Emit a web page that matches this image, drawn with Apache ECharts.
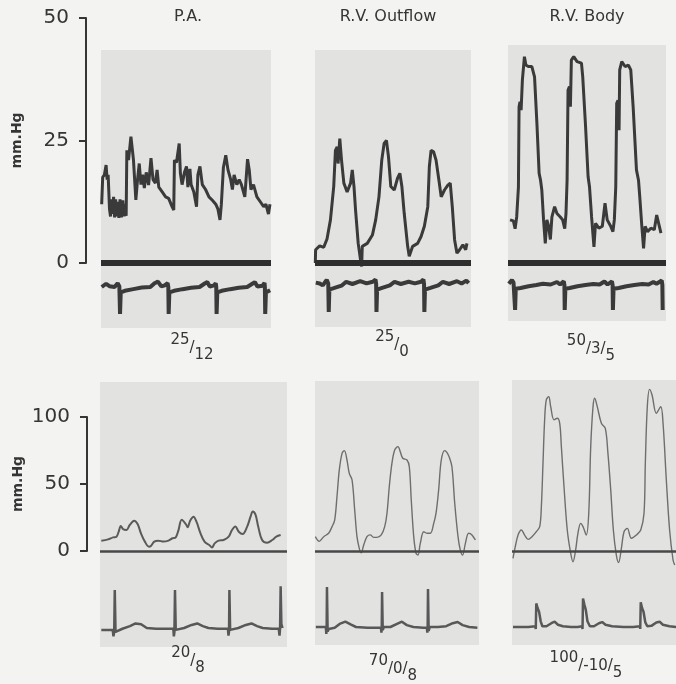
<!DOCTYPE html>
<html>
<head>
<meta charset="utf-8">
<title>Pressure tracings</title>
<script src="https://cdn.jsdelivr.net/npm/echarts@6/dist/echarts.min.js"></script>
<style>
    html, body { margin: 0; padding: 0; background: #f3f3f2; }
    #main { width: 676px; height: 684px; }
</style>
</head>
<body>
<div id="main"></div>
<script>
// titles and readings
var panelNames = ['P.A.', 'R.V. Outflow', 'R.V. Body'];
var readingsTop = [['25', '12'], ['25', '0'], ['50', '3', '5']];
var readingsBottom = [['20', '8'], ['70', '0', '8'], ['100', '-10', '5']];

// tick labels (mm.Hg)
var ticksTop = [0, 25, 50];
var ticksBottom = [0, 50, 100];

// pressure traces, [time % of strip, mm.Hg]
var paTop = [
    [0.4,12],[1.0,17.5],[2.0,18],[3.0,20],[3.6,17],[4.2,18],[5.0,11],[5.6,9.5],[6.2,13],[6.8,10],[7.4,13.5],[8.0,9.3],
    [8.6,13],[9.2,9.5],[9.8,12.5],[10.5,9.2],[11.2,13],[12.0,9.3],[12.8,12.8],[13.6,9.5],[14.4,12],[14.8,9.6],
    [15.2,23],[16.2,21],[17.6,25.8],[18.5,23],[19.1,21],[20.5,12.9],[21.5,17],[22.5,20.3],[23.5,16],[24.5,18],[25.5,15.3],
    [26.6,18.5],[28.0,15.9],[29.4,21.4],[30.6,17],[32.0,16.3],[33.0,19],[34.0,15.5],[36.0,14.5],[38.0,13.5],[39.8,13.2],
    [41.8,11.5],[42.8,10.8],
    [43.2,21],[44.4,20.5],[46.0,24.4],[46.7,18.3],[47.7,16],[49.1,18.5],[50.3,19.7],[51.1,15.5],[52.3,19.2],[53.0,16],
    [54.6,14.5],[56.2,11.5],[57.0,18],[58.2,19.7],[59.6,16],[61.5,15],[63.5,13.5],[65.5,12.8],[67.5,12],[68.8,11],[70.0,8.8],[70.8,12],
    [72.0,19.5],[73.4,22],[74.7,19],[76.3,17],[77.3,15],[78.3,18],[79.9,16],[81.3,17],[82.6,16],[84.6,13.5],[86.2,21.2],
    [87.2,19],[88.2,15],[89.7,16],[91.7,13.5],[93.7,12.5],[95.7,11.5],[97.0,12],[98.5,10],[99.4,12]
];
var outflowTop = [
    [0.2,0],[0.4,2.7],[3,3.5],[5.6,3.2],[7.7,4.9],[9.9,8.8],[12.0,15.6],[13.1,23],[14.2,23.7],[14.8,20.3],[15.9,25.4],
    [17.0,21],[18.5,16.3],[20.6,14.5],[22.8,16.3],[23.9,19],[25.0,15.6],[26.0,10.8],[27.7,4],[29.2,0.6],[29.9,-0.7],
    [30.3,3.4],[33.5,4],[36.8,5.7],[38.9,8.8],[41.0,13.5],[42.8,21],[44.3,24.4],[45.8,25],[47.1,21.7],[48.6,15.6],
    [50.8,14.9],[52.9,17.3],[54.4,18.3],[55.7,15.6],[57.2,10.1],[59.4,3.4],[60.4,1.4],[62.6,3.4],[65.8,4],[68.0,5.4],
    [70.1,7.5],[72.3,11.5],[73.3,19.7],[74.4,23],[76.0,22.7],[77.6,21],[79.4,17],[80.9,13.5],[83.0,14.9],[85.2,15.9],
    [86.7,16.3],[88.0,11.5],[89.5,4.7],[91.0,2],[92.7,2.7],[94.8,3.7],[96.6,2.7],[97.4,4]
];
var bodyTop = [
    [1.3,8.8],[3.4,8.6],[4.5,7.0],[5.5,9.4],[6.6,15.5],[7.0,31.9],[7.6,32.9],[8.3,31.2],[9.1,37.3],[10.4,42.1],[11.3,40.4],
    [12.9,40.1],[15.1,40.1],[16.8,38.0],[18.3,28.5],[19.7,18.3],[20.6,16.9],[21.4,14.9],[22.5,8.8],[23.6,4.0],[24.6,8.8],
    [25.7,7.5],[26.8,4.8],[27.8,9.4],[29.5,11.5],[31.0,10.1],[33.1,9.4],[34.6,8.8],[35.9,7.0],[36.7,10.1],[37.4,16.9],
    [38.0,35.3],[38.9,36.0],[39.5,31.9],[40.1,41.4],[41.6,42.1],[43.7,41.1],[46.5,40.8],[47.3,38.0],[49.1,27.8],[50.7,17.6],
    [51.6,15.5],[52.9,9.4],[54.4,3.3],[55.4,8.1],[57.5,7.1],[59.7,7.5],[61.4,12.2],[62.8,8.8],[65.0,7.5],[66.4,6.4],
    [67.3,8.8],[68.2,15.5],[68.8,32.6],[69.6,33.2],[70.3,27.1],[70.7,39.4],[72.0,41.1],[74.1,40.1],[76.2,40.4],[77.7,39.4],
    [79.2,31.9],[81.3,19],[82.6,16.9],[83.4,13.5],[84.7,7.5],[85.8,3],[86.8,7.5],[88.3,6.4],[90.4,7.1],[92.6,6.8],
    [94.1,9.8],[95.3,10.1],[96.8,6.1]
];
var paBottom = [
    [0.7,7.7],[4.3,8.7],[7.0,10.2],[8.8,10.7],[10.0,14.4],[11.1,18.7],[12.4,16.2],[14.2,15.7],[15.9,19.4],[18.3,22.6],
    [20.1,20.1],[21.9,13.2],[24.0,7.0],[26.2,3.2],[27.2,3.7],[29.0,7.0],[31.2,7.7],[33.9,7.0],[36.6,7.7],[38.7,9.5],
    [40.5,10.2],[41.9,15.2],[43.7,23.3],[45.9,20.1],[46.9,17.7],[48.2,22.6],[50.0,25.6],[51.8,21.1],[53.6,13.7],[55.9,7.0],
    [58.4,4.5],[59.9,2.7],[61.3,5.7],[63.4,7.7],[66.1,8.2],[68.8,10.7],[70.6,15.7],[72.4,18.2],[74.2,14.4],[76.3,12.7],
    [78.7,18.2],[80.5,25.6],[81.7,29.4],[83.2,26.9],[84.6,18.2],[86.7,8.2],[89.4,6.2],[92.1,8.2],[94.3,10.7],[96.6,11.9]
];
var outflowBottom = [
    [0.2,10.7],[2.6,7.2],[5.3,10.7],[8.3,13.2],[10.4,18.2],[12.0,23.1],[13.4,40.5],[14.8,60.4],[16.5,72.9],[17.9,74.9],
    [19.5,67.9],[20.9,57.9],[22.6,53.0],[24.2,30.6],[25.6,10.7],[27.0,2.0],[28.2,-1.3],[29.7,4.5],[31.7,10.7],[33.7,12.0],
    [35.8,10.2],[37.8,10.2],[40.4,12.0],[42.5,18.2],[43.9,28.2],[45.3,48.1],[46.9,65.4],[48.6,75.4],[50.6,77.9],[52.0,74.1],
    [53.5,69.2],[56.1,67.9],[57.5,62.9],[58.7,38.1],[60.2,10.7],[61.6,-1.7],[62.8,-3.0],[64.2,5.7],[66.3,14.4],[68.3,13.2],
    [70.3,13.2],[72.4,20.6],[73.8,28.2],[75.4,45.6],[77.0,67.9],[79.1,74.9],[80.5,73.4],[81.9,69.9],[83.5,62.9],[85.2,35.6],
    [87.2,10.7],[88.6,0.7],[90.0,-3.0],[91.7,5.7],[93.7,13.2],[95.7,12.0],[97.8,8.2]
];
var bodyBottom = [
    [0.6,-5.5],[2.0,3.2],[3.7,11.9],[5.7,15.7],[7.7,11.9],[9.8,8.7],[12.2,10.7],[14.8,14.4],[16.9,18.2],[17.9,33.1],
    [18.9,65.4],[19.9,97.9],[20.9,112.7],[22.4,115.2],[23.6,107.7],[25.6,97.9],[27.6,99.1],[29.1,95.3],[30.1,77.9],
    [31.7,48.1],[33.7,15.7],[35.8,-1.7],[37.2,-8.0],[38.8,0.7],[40.2,13.2],[41.9,20.6],[43.3,18.2],[45.3,11.9],[46.8,28.2],
    [48.0,77.9],[49.4,107.7],[50.4,114.0],[52.0,107.7],[54.5,95.3],[56.9,91.5],[58.5,72.9],[60.2,45.6],[61.8,15.7],
    [63.6,-2.9],[65.0,-8.6],[66.7,2.0],[68.3,14.4],[70.3,16.9],[72.8,9.5],[75.8,11.9],[78.5,15.7],[80.5,28.2],[81.3,65.4],
    [82.5,107.7],[83.9,120.6],[85.4,116.4],[88.0,102.8],[90.7,107.7],[92.1,95.3],[94.1,53.0],[96.1,15.7],[98.2,-6.7],[99.2,-10.4]
];

// ECG strips, [time % of strip, relative deflection]
var ecgPaTop = [
    [0.4,0],[3.0,0.12],[5.0,0.03],[8.0,0],[9.8,0.14],[10.8,0.02],[11.2,-1],[11.6,-0.2],[14,-0.14],[19,-0.08],[24,-0.02],
    [29,0],[31.5,0.14],[33.5,0.2],[35.5,0.02],[37.5,0.06],[39.2,0.14],[39.6,0],[39.8,-1],[40.2,-0.2],[43,-0.14],[48,-0.08],
    [53,-0.03],[58,0],[61,0.13],[62.5,0.18],[64,0.02],[66.5,0.06],[67.5,0.14],[67.8,0],[68.0,-1],[68.4,-0.2],[71,-0.14],
    [76,-0.08],[81,-0.03],[86,0],[89,0.12],[90.5,0.18],[92,0.02],[95,0.05],[96.2,0.15],[96.4,0],[96.6,-1],[97,-0.2],[99.5,-0.12]
];
var ecgOutflowTop = [
    [0.5,0.05],[3,0.02],[5,-0.05],[7.5,0.15],[8.5,0.02],[8.8,-1],[9.2,-0.2],[12,-0.15],[17,-0.06],[20,0.08],[24,0],[29,0.1],
    [33,0.02],[37,0.08],[38.8,0.16],[39.2,0],[39.4,-1],[39.8,-0.2],[43,-0.14],[48,-0.05],[51,0.08],[55,0],[60,0.08],[64,0.02],
    [68,0.08],[69.5,0.16],[69.9,0],[70.1,-1],[70.5,-0.2],[74,-0.14],[79,-0.05],[82,0.08],[86,0],[91,0.1],[94,0.02],[97,0.12],[98.5,0.03]
];
var ecgBodyTop = [
    [0.5,0.05],[2.5,0.2],[3.5,0.1],[4.3,0.05],[4.5,-1],[4.9,-0.15],[8,-0.12],[13,-0.05],[18,0],[22,0.05],[27,0.02],[31,0.12],
    [33,0.02],[35.3,0.15],[35.7,0],[35.9,-1],[36.3,-0.15],[39,-0.12],[44,-0.05],[49,0],[54,0.04],[58,0.02],[61,0.14],[63,0.02],
    [65.8,0.15],[66.2,0],[66.4,-1],[66.8,-0.15],[70,-0.12],[75,-0.05],[80,0],[85,0.04],[89,0.02],[92,0.12],[94,0.05],
    [97.3,0.18],[97.7,0],[97.9,-1]
];
var ecgPaBottom = [
    [0.7,-0.05],[5,-0.05],[6.8,-0.05],[7.2,-0.22],[7.6,-0.1],[7.9,1.0],[8.3,-0.1],[8.8,-0.05],[12,-0.02],[16,0.05],[19,0.12],
    [22,0.1],[25,0],[30,-0.02],[35,-0.02],[39.2,-0.02],[39.5,-0.22],[39.8,-0.1],[40.1,1.0],[40.5,-0.05],[41.5,0],[45,0],
    [49,0.08],[52,0.12],[55,0.05],[58,0],[63,-0.02],[68.4,-0.02],[68.7,-0.2],[69.0,-0.1],[69.2,1.0],[69.6,-0.05],[70.5,0],
    [74,0],[78,0.08],[81,0.12],[84,0.05],[87,0],[92,-0.02],[95.6,-0.02],[96.0,-0.2],[96.3,0],[96.6,1.1],[97.0,0.1],[97.6,0]
];
var ecgOutflowBottom = [
    [0.5,0],[5,0],[6.6,0],[6.9,-0.18],[7.1,-0.05],[7.3,1.05],[7.7,-0.12],[8.4,-0.05],[12,-0.02],[15,0.08],[18.5,0.14],
    [22,0.06],[25,0],[32,-0.02],[38,-0.02],[40.2,-0.02],[40.5,-0.15],[40.7,0],[40.9,0.92],[41.3,-0.08],[42,0],[46,0],
    [50,0.08],[53,0.14],[56,0.05],[60,0],[66,-0.02],[68.2,-0.02],[68.5,-0.15],[68.7,0],[68.9,1.0],[69.3,-0.1],[70,0],
    [75,0],[80,0.02],[84,0.1],[87,0.13],[90,0.05],[94,0],[99,-0.02]
];
var ecgBodyBottom = [
    [0.6,0],[5,0],[10,0],[14.2,0.02],[14.5,-0.05],[14.8,0.62],[15.6,0.5],[16.5,0.4],[17.5,0.15],[18.5,0.02],[21,0.02],
    [24,0.1],[26,0.14],[28,0.06],[31,0.02],[36,0],[40,0],[42.7,0.02],[43.0,-0.05],[43.3,0.75],[44.1,0.6],[45,0.45],
    [46,0.15],[47.5,0.02],[50,0.02],[53,0.1],[55,0.13],[57,0.06],[61,0.02],[68,0],[74,0],[78.0,0.02],[78.2,-0.05],
    [78.5,0.65],[79.3,0.5],[80.2,0.4],[81.3,0.12],[82.5,0.02],[85,0.03],[88,0.12],[90,0.14],[92,0.06],[96,0.02],[100,0]
];

var FONT = 'DejaVu Sans';
var INK = '#353535';

// layout of the left scales (pixel rows of 0 and of the top tick)
var scaleTop = { x: 86, zero: 263, topY: 18, max: 50 };
var scaleBottom = { x: 87, zero: 551, topY: 417, max: 100 };

// gray strips
var panels = [
    { left: 101, top: 50, right: 271, bottom: 328, scale: scaleTop, ecgZero: 287, ecgUnit: 27, press: paTop, ecg: ecgPaTop },
    { left: 315, top: 50, right: 471, bottom: 327, scale: scaleTop, ecgZero: 284, ecgUnit: 28, press: outflowTop, ecg: ecgOutflowTop },
    { left: 508, top: 45, right: 666, bottom: 321, scale: scaleTop, ecgZero: 285, ecgUnit: 25, press: bodyTop, ecg: ecgBodyTop },
    { left: 100, top: 382, right: 287, bottom: 647, scale: scaleBottom, ecgZero: 628, ecgUnit: 38, press: paBottom, ecg: ecgPaBottom },
    { left: 315, top: 381, right: 479, bottom: 645, scale: scaleBottom, ecgZero: 627, ecgUnit: 38, press: outflowBottom, ecg: ecgOutflowBottom },
    { left: 512, top: 380, right: 676, bottom: 645, scale: scaleBottom, ecgZero: 627, ecgUnit: 38, press: bodyBottom, ecg: ecgBodyBottom }
];

var chart = echarts.init(document.getElementById('main'), null, { renderer: 'canvas' });

// left mm.Hg scale
function scaleAxis(idx, ticks) {
    return {
        gridIndex: idx, type: 'value', min: ticks[0], max: ticks[ticks.length - 1],
        interval: ticks[1] - ticks[0],
        axisLine: { show: true, lineStyle: { color: INK, width: 2 } },
        axisTick: { show: true, length: 7, lineStyle: { color: INK, width: 2 } },
        axisLabel: { color: INK, fontSize: 20, fontFamily: FONT, margin: 17 },
        splitLine: { show: false },
        name: 'mm.Hg', nameLocation: 'middle', nameRotate: 90, nameGap: 62,
        nameTextStyle: { color: INK, fontSize: 14, fontWeight: 'bold', fontFamily: FONT }
    };
}

var grids = [
    { left: scaleTop.x, top: scaleTop.topY, width: 1, height: scaleTop.zero - scaleTop.topY },
    { left: scaleBottom.x, top: scaleBottom.topY, width: 1, height: scaleBottom.zero - scaleBottom.topY }
];
var xAxes = [
    { gridIndex: 0, type: 'value', show: false },
    { gridIndex: 1, type: 'value', show: false }
];
var yAxes = [scaleAxis(0, ticksTop), scaleAxis(1, ticksBottom)];
var series = [];

panels.forEach(function (p, k) {
    var gi = k + 2;
    var s = p.scale;
    var pxPer = (s.zero - s.topY) / s.max;
    var isTop = s === scaleTop;
    grids.push({
        left: p.left, top: p.top, width: p.right - p.left, height: p.bottom - p.top,
        show: true, backgroundColor: '#e2e2e1', borderWidth: 0
    });
    xAxes.push({ gridIndex: gi, type: 'value', min: 0, max: 100, show: false });
    // pressure axis
    yAxes.push({
        gridIndex: gi, type: 'value', show: false,
        min: -(p.bottom - s.zero) / pxPer, max: (s.zero - p.top) / pxPer
    });
    // ecg axis
    yAxes.push({
        gridIndex: gi, type: 'value', show: false,
        min: -(p.bottom - p.ecgZero) / p.ecgUnit, max: (p.ecgZero - p.top) / p.ecgUnit
    });
    var py = yAxes.length - 2;
    series.push({
        type: 'line', xAxisIndex: gi, yAxisIndex: py, data: p.press,
        showSymbol: false, silent: true, smooth: isTop ? false : 0.35,
        lineStyle: { color: isTop ? '#3a3a3a' : (k === 3 ? '#5a5a5a' : '#6e6e6e'), width: isTop ? 3 : (k === 3 ? 2 : 1.4) },
        markLine: {
            silent: true, symbol: 'none', label: { show: false },
            lineStyle: { type: 'solid', color: isTop ? '#2e2e2e' : '#484848', width: isTop ? 6 : 2.5 },
            data: [{ yAxis: 0 }]
        }
    });
    series.push({
        type: 'line', xAxisIndex: gi, yAxisIndex: py + 1, data: p.ecg,
        showSymbol: false, silent: true,
        lineStyle: { color: isTop ? '#3a3a3a' : '#585858', width: isTop ? 4 : 2.5 }
    });
});

// readings under each strip, written as stepped fractions
function readingText(parts) {
    var keys = parts.length === 2 ? ['u', 'd'] : ['u', 'm', 'd'];
    return parts.map(function (v, i) { return '{' + keys[i] + '|' + v + '}'; }).join('{s|/}');
}
var rich = {
    u: { fontSize: 15, lineHeight: 15, verticalAlign: 'top', fontFamily: FONT, fill: INK },
    m: { fontSize: 15, lineHeight: 15, verticalAlign: 'middle', fontFamily: FONT, fill: INK },
    d: { fontSize: 15, lineHeight: 15, verticalAlign: 'bottom', fontFamily: FONT, fill: INK },
    s: { fontSize: 15, lineHeight: 30, verticalAlign: 'middle', fontFamily: FONT, fill: INK }
};

var titleX = [188, 388, 587];
var graphics = [];
panelNames.forEach(function (name, i) {
    graphics.push({
        type: 'text', x: titleX[i], y: 17,
        style: { text: name, fontSize: 16, fontFamily: FONT, fill: INK, align: 'center', verticalAlign: 'middle' }
    });
});
var readTopPos = [[192, 348], [392, 345], [591, 349]];
var readBottomPos = [[188, 661], [393, 669], [586, 666]];
readingsTop.forEach(function (r, i) {
    graphics.push({
        type: 'text', x: readTopPos[i][0], y: readTopPos[i][1],
        style: { text: readingText(r), rich: rich, align: 'center', verticalAlign: 'middle' }
    });
});
readingsBottom.forEach(function (r, i) {
    graphics.push({
        type: 'text', x: readBottomPos[i][0], y: readBottomPos[i][1],
        style: { text: readingText(r), rich: rich, align: 'center', verticalAlign: 'middle' }
    });
});

chart.setOption({
    backgroundColor: '#f3f3f2',
    animation: false,
    grid: grids,
    xAxis: xAxes,
    yAxis: yAxes,
    series: series,
    graphic: graphics
});
</script>
</body>
</html>
